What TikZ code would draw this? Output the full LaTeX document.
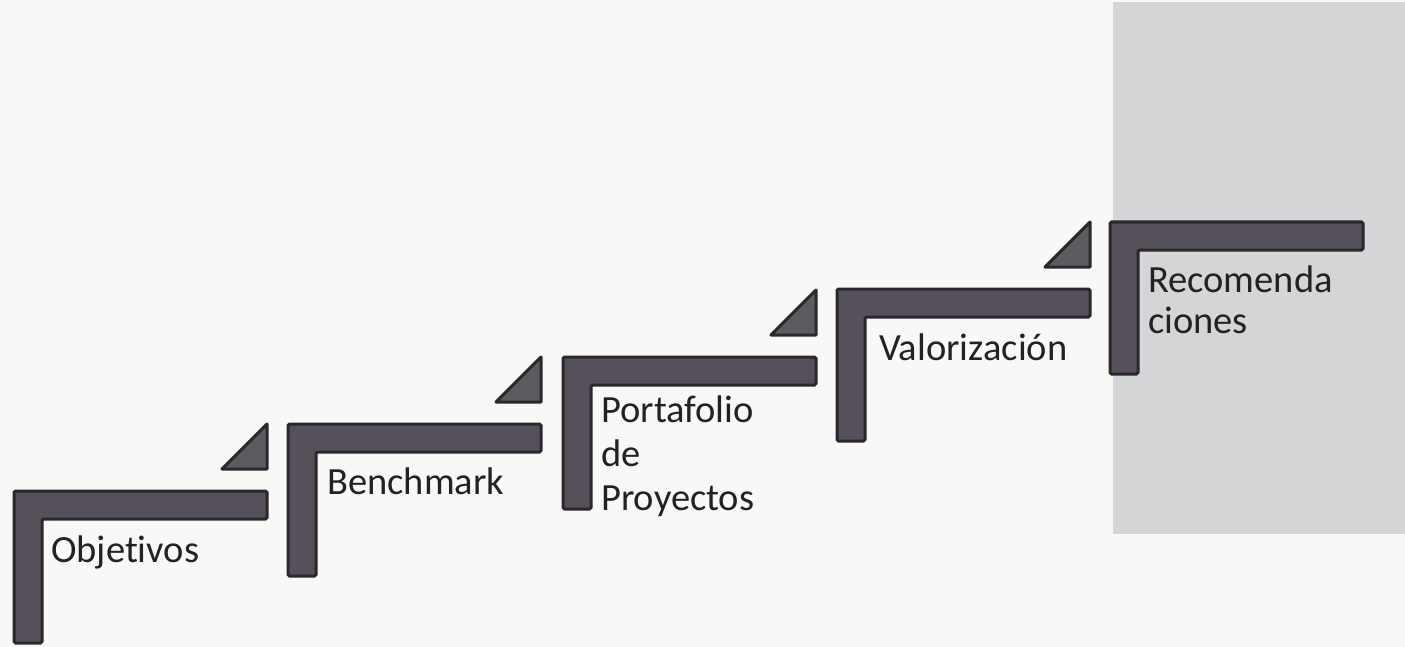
\documentclass[tikz,border=0pt]{standalone}
\usepackage{fontspec}
\setmainfont[Ligatures=NoCommon]{Carlito}
\definecolor{paper}{HTML}{F8F8F6}
\definecolor{panel}{HTML}{D3D5D7}
\definecolor{barfill}{HTML}{55505A}
\definecolor{barline}{HTML}{2A282C}
\definecolor{wedgefill}{HTML}{5E5A62}
\definecolor{ink}{HTML}{222222}
\tikzset{
  stairbar/.style={fill=barfill, draw=barline, line width=3pt, rounded corners=1.5pt},
  wedge/.style={fill=wedgefill, draw=barline, line width=3pt, line join=round},
  steplabel/.style={anchor=base west, inner sep=0pt, text=ink, align=left,
                    font=\fontsize{38.5}{44}\selectfont},
}
% L-shaped stair: #1 = left x, #2 = top y
\newcommand\stairL[2]{%
  \draw[stairbar] (#1,#2) -- ++(253,0) -- ++(0,28) -- ++(-225,0)
                  -- ++(0,124) -- ++(-28,0) -- cycle;}
% wedge at the end of a stair, #1 = right x, #2 = bottom y
\newcommand\stairwedge[2]{%
  \draw[wedge] (#1,#2) -- ++(-45,0) -- ++(45,-45) -- cycle;}
\begin{document}
\begin{tikzpicture}[x=1pt,y=-1pt]
  \fill[paper] (0,0) rectangle (1405,647);
  \useasboundingbox (0,0) rectangle (1405,647);
  \fill[panel] (1113,2) rectangle (1405,534);

  \stairL{14}{491}
  \stairL{288}{424}
  \stairL{563}{357}
  \stairL{837}{289}
  \stairL{1110}{222}

  \stairwedge{267}{469}
  \stairwedge{541}{402}
  \stairwedge{816}{335}
  \stairwedge{1090}{267}

  % multi-line labels are placed by the baseline of their last line
  \node[steplabel] (obj) at (51,562) {Objetivos};
  \node[steplabel] (ben) at (327,494) {Benchmark};
  \node[steplabel] (por) at (601,510) {Portafolio\\de\\Proyectos};
  \node[steplabel] (val) at (879,360) {Valorización};
  \node[steplabel, font=\fontsize{38.5}{41}\selectfont] (rec) at (1148,333) {Recomenda\\ciones};
\end{tikzpicture}
\end{document}
